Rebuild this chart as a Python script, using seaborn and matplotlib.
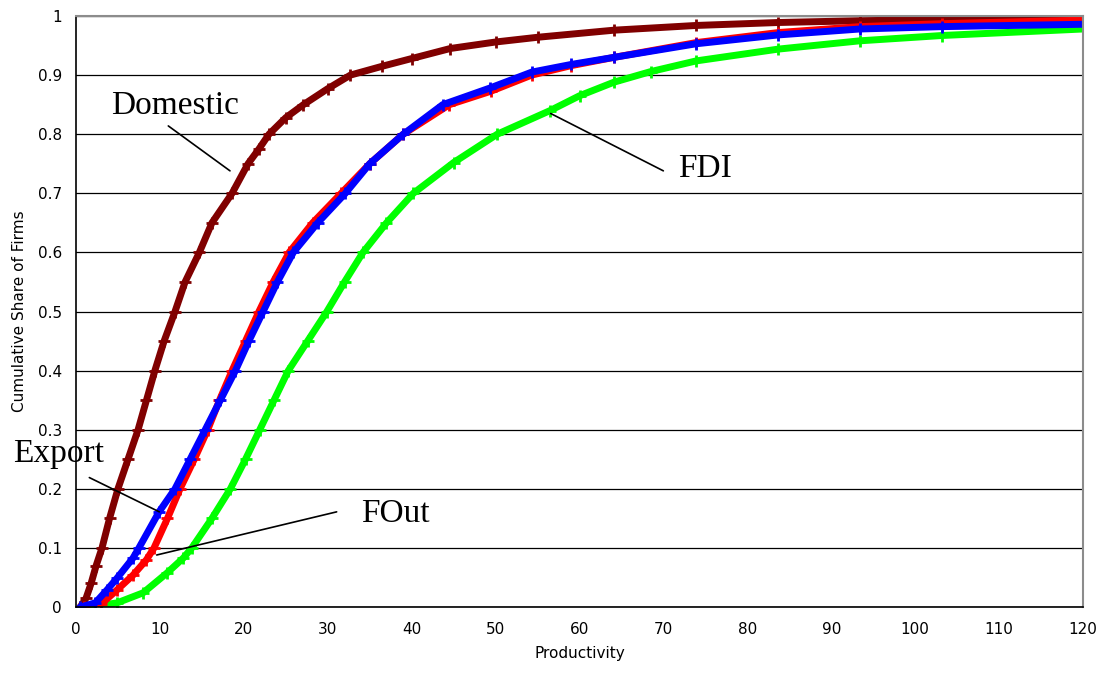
"""
Cumulative distribution of firm productivity by firm type
(Domestic / FDI / FOut / Export), Excel-style CDF chart.
"""

import pandas as pd
import matplotlib.pyplot as plt
import seaborn as sns

# productivity values read at cumulative shares, one pair of lists per group
domestic_x = [0.5, 1.2, 1.8, 2.4, 3.1, 4.0, 5.0, 6.2, 7.4, 8.4, 9.4, 10.5, 11.8, 13.0,
              14.7, 16.2, 18.6, 20.5, 21.8, 23.0, 25.0, 27.1, 30.0, 32.7, 36.5,
              40.0, 44.6, 50.0, 55.0, 64.1, 73.9, 83.7, 93.4, 103.2, 120.0]
domestic_y = [0.0, 0.015, 0.04, 0.07, 0.1, 0.15, 0.2, 0.25, 0.3, 0.35, 0.4, 0.45, 0.5, 0.55,
              0.6, 0.65, 0.7, 0.75, 0.775, 0.8, 0.828, 0.85, 0.877, 0.9, 0.915,
              0.928, 0.945, 0.956, 0.964, 0.976, 0.984, 0.989, 0.992, 0.994, 0.997]

fdi_x = [1.7, 4.9, 8.0, 10.8, 12.8, 13.8, 16.2, 18.4, 20.2, 21.9, 23.6, 25.3, 27.6, 29.9,
         32.0, 34.2, 37.0, 40.2, 45.0, 50.2, 56.5, 60.0, 64.1, 68.5, 73.9, 83.7,
         93.4, 103.2, 120.0]
fdi_y = [0.0, 0.007, 0.024, 0.057, 0.083, 0.1, 0.15, 0.2, 0.25, 0.3, 0.35, 0.4, 0.45, 0.5,
         0.55, 0.6, 0.65, 0.7, 0.752, 0.8, 0.84, 0.865, 0.888, 0.906, 0.924, 0.944,
         0.958, 0.967, 0.978]

fout_x = [1.0, 3.0, 4.9, 6.8, 8.4, 9.3, 10.9, 12.4, 14.1, 15.7, 17.1, 18.6, 20.2, 21.8,
          23.5, 25.4, 28.2, 31.6, 35.0, 39.0, 44.5, 49.5, 54.3, 59.0, 64.1, 73.9,
          83.7, 93.4, 103.2, 120.0]
fout_y = [0.0, 0.005, 0.029, 0.054, 0.08, 0.1, 0.15, 0.2, 0.25, 0.3, 0.35, 0.4, 0.45, 0.5,
          0.55, 0.6, 0.65, 0.7, 0.75, 0.8, 0.85, 0.873, 0.9, 0.916, 0.93, 0.955,
          0.972, 0.982, 0.987, 0.993]

export_x = [0.5, 2.3, 3.7, 4.9, 6.8, 7.5, 9.9, 11.8, 13.6, 15.4, 17.2, 19.0, 20.6, 22.3,
            24.0, 25.9, 28.8, 32.1, 35.0, 39.0, 43.7, 49.3, 54.3, 59.0, 64.1, 73.9,
            83.7, 93.4, 103.2, 120.0]
export_y = [0.0, 0.007, 0.029, 0.049, 0.083, 0.1, 0.161, 0.2, 0.25, 0.3, 0.35, 0.4, 0.45, 0.5,
            0.55, 0.6, 0.65, 0.7, 0.75, 0.8, 0.85, 0.878, 0.905, 0.918, 0.93, 0.953,
            0.968, 0.978, 0.982, 0.986]

groups = ["Domestic", "FDI", "FOut", "Export"]
colors = {"Domestic": "#800000", "FDI": "#00FF00", "FOut": "#FF0000", "Export": "#0000FF"}

# label text (x, y baseline) and leader line (x0, y0, x1, y1), in data units
labels = {
    "Domestic": ((11.83, 0.834), (11.0, 0.814, 18.35, 0.738)),
    "FDI": ((75.0, 0.728), (69.99, 0.738, 56.57, 0.835)),
    "Export": ((-2.05, 0.245), (1.59, 0.219, 9.93, 0.161)),
    "FOut": ((38.07, 0.143), (31.06, 0.161, 9.62, 0.088)),
}

frames = []
for name, xs, ys in zip(groups, [domestic_x, fdi_x, fout_x, export_x],
                        [domestic_y, fdi_y, fout_y, export_y]):
    frames.append(pd.DataFrame({"Productivity": xs, "Share": ys, "Group": name}))
df = pd.concat(frames, ignore_index=True)

sns.set_theme(style="white")
plt.rcParams["font.family"] = ["DejaVu Sans"]

fig, ax = plt.subplots(figsize=(11.04, 6.79), dpi=100)
fig.subplots_adjust(left=76 / 1104, right=1083 / 1104, bottom=72 / 679, top=663 / 679)

sns.lineplot(data=df, x="Productivity", y="Share", hue="Group", hue_order=groups,
             palette=colors, sort=False, estimator=None, legend=False,
             lw=5, marker="+", ms=8, ax=ax)
for line in ax.lines:
    line.set_markeredgecolor(line.get_color())
    line.set_markeredgewidth(2)
    line.set_solid_joinstyle("round")

ax.set_xlim(0, 120)
ax.set_ylim(0, 1)
ax.set_xticks(range(0, 121, 10))
ax.set_yticks([i / 10 for i in range(11)])
ax.set_yticklabels(["0"] + [f"{i / 10:.1f}" for i in range(1, 10)] + ["1"])

ax.yaxis.grid(True, color="black", lw=0.9)
ax.set_axisbelow(True)
for side in ["left", "bottom"]:
    ax.spines[side].set_color("black")
    ax.spines[side].set_linewidth(1.2)
for side in ["top", "right"]:
    ax.spines[side].set_color("#8c8c8c")
    ax.spines[side].set_linewidth(1.5)

ax.tick_params(axis="x", direction="in", length=4, width=1, color="black",
               pad=11, labelsize=11, labelcolor="black")
ax.tick_params(axis="y", length=0, pad=10, labelsize=11, labelcolor="black")
ax.set_xlabel("Productivity", fontsize=11, color="black", labelpad=6)
ax.set_ylabel("Cumulative Share of Firms", fontsize=11, color="black", labelpad=8)

for name, ((tx, ty), (x0, y0, x1, y1)) in labels.items():
    ax.text(tx, ty, name, ha="center", va="baseline", fontsize=24,
            family="Liberation Serif", color="black")
    ax.plot([x0, x1], [y0, y1], color="black", lw=1.2, clip_on=False)

fig.savefig("out.png", dpi=100)
